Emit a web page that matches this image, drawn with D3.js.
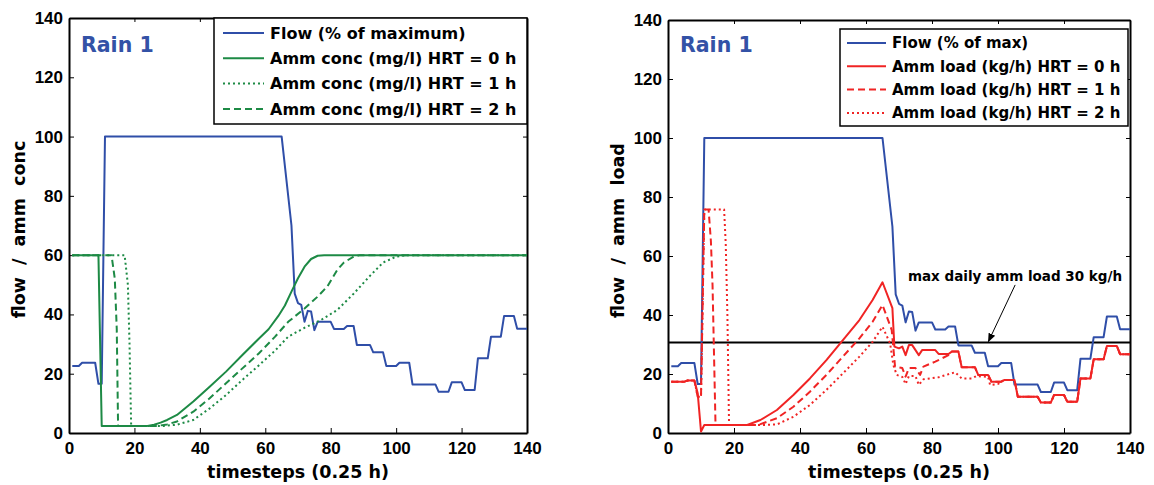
<!DOCTYPE html>
<html lang="en">
<head>
<meta charset="UTF-8">
<title>Rain 1 - flow, ammonium concentration and load</title>
<script src="https://cdnjs.cloudflare.com/ajax/libs/d3/7.8.5/d3.min.js"></script>
<style>
  * { margin: 0; padding: 0; box-sizing: border-box; }
  body { background: #fff; }
  svg { display: block; font-family: "DejaVu Sans", Verdana, sans-serif; font-weight: bold; }
  .tick text { font-size: 17px; font-weight: bold; fill: #000; }
</style>
</head>
<body>
<svg id="chart" width="1154" height="485"></svg>
<script>
// flow, % of maximum (same series in both panels)
const flow = [[1,22.6],[3,22.6],[4,23.7],[8,23.7],[9,16.6],[10,16.6],[11,100],[65,100],[68,70],[69,47],
  [70,43.8],[71,43.2],[72,37.5],[73,41.2],[74,41],[75,34.7],[76,37.5],[80,37.5],[81,35.1],[84,35.1],
  [85,36.1],[87,36.1],[88,29.7],[92,29.7],[93,27.2],[96,27.2],[97,22.6],[100,22.6],[101,23.7],[104,23.7],
  [105,16.4],[112,16.4],[113,13.9],[116,13.9],[117,17.1],[120,17.1],[121,14.5],[124,14.5],[125,25.2],
  [128,25.2],[129,32.5],[132,32.5],[133,39.5],[136,39.5],[137,35.2],[140,35.2]];

// ammonium concentration (mg/l)
const conc0 = [[1,60],[9,60],[10,2.4],[24,2.4],[26,2.8],[28,3.5],[30,4.4],[33,6.1],[38,10.6],[43,15.6],
  [48,20.7],[53,26.3],[58,31.8],[61,35],[64,39.5],[66,43],[68,47.7],[70,52.2],[72,56.1],[74,58.7],
  [76,59.8],[78,60],[140,60]];
const conc1 = [[1,60],[17,60],[18,50],[18.5,30],[19,2.4],[29,2.4],[33,2.8],[38,4.4],[43,8.3],[48,12.8],
  [53,17.9],[58,22.8],[63,27.8],[67,32.5],[72,35.5],[77,38.1],[82,41.5],[87,47],[92,53],[96,57.5],
  [100,59.5],[103,60],[140,60]];
const conc2 = [[1,60],[13,60],[14,52],[14.6,35],[15,2.4],[27,2.4],[30,2.9],[33,3.9],[38,7.2],[43,11.7],
  [48,16.8],[53,21.8],[58,26.8],[63,32.5],[67,37.5],[72,42],[76,46],[79,49.5],[82,55],[84,57.5],
  [87,59.5],[89,60],[140,60]];

// ammonium load (kg/h)
const load0 = [[1,17.4],[5,17.4],[6,17.8],[8,17.8],[9,13.5],[10,0.5],[11,2.7],[24,2.7],[28,4.4],[33,7.8],
  [38,12.9],[43,18.5],[48,24.7],[53,31.5],[58,38.3],[62,45.1],[65,51.1],[68,42.3],[68.6,29.3],[70,28.7],
  [71,29.3],[72,26.4],[73,29.8],[74,29.8],[76,26.4],[77,28.1],[81,28.1],[82,26.8],[85,26.8],[86,27.6],
  [88,27.6],[89,22.3],[93,22.3],[94,19.7],[97,19.7],[98,17.4],[101,17.4],[102,18],[105,18],[106,12.3],
  [112,12.3],[113,10.3],[116,10.3],[117,12.9],[120,12.9],[121,10.6],[124,10.6],[125,18.5],[128,18.5],
  [129,25],[132,25],[133,29.5],[136,29.5],[137,26.7],[140,26.7]];
const load1 = [[1,17.4],[5,17.4],[6,17.8],[8,17.8],[9,12.3],[10,12.3],[11,75.8],[12.3,75.8],[13,65],
  [13.5,50],[14.4,2.7],[27,2.7],[28,3],[33,5],[38,8.9],[43,14],[48,19.7],[53,25.9],[58,32.1],[62,37.7],
  [65,43.4],[67.8,34.9],[68.8,22.5],[71,22],[72,19.1],[73,22],[75,22],[76.4,19.7],[77.4,22.5],[81,24.2],
  [85,26.4],[86,27.6],[88,27.6],[89,22.3],[93,22.3],[94,19.7],[97,19.7],[98,17.4],[101,17.4],[102,18],
  [105,18],[106,12.3],[112,12.3],[113,10.3],[116,10.3],[117,12.9],[120,12.9],[121,10.6],[124,10.6],
  [125,18.5],[128,18.5],[129,25],[132,25],[133,29.5],[136,29.5],[137,26.7],[140,26.7]];
const load2 = [[1,17.4],[5,17.4],[6,17.8],[8,17.8],[9,12.3],[10,12.3],[11,75.8],[17,75.8],[17.5,64],
  [18,40],[18.5,2.7],[29,2.7],[33,2.9],[38,5.5],[43,9.5],[48,14.6],[53,20.2],[58,25.9],[62,30.9],
  [65,36],[67.3,30.4],[68.3,23],[69.3,19.7],[71,19],[72,16.6],[73,19.3],[75,19.3],[76,16.3],[77.4,18.2],
  [82,18.9],[87,20.6],[89,18.5],[92,18.5],[93.5,19.3],[97,19],[97.6,16.3],[100,16.6],[101,17.4],[102,18],
  [105,18],[106,12.3],[112,12.3],[113,10.3],[116,10.3],[117,12.9],[120,12.9],[121,10.6],[124,10.6],
  [125,18.5],[128,18.5],[129,25],[132,25],[133,29.5],[136,29.5],[137,26.7],[140,26.7]];

const maxLoad = 30.7;
const tickValues = [0, 20, 40, 60, 80, 100, 120, 140];

const BLUE = "#2f4ea8", GREEN = "#1d8a45", RED = "#f02424";

const svg = d3.select("#chart");
svg.append("rect").attr("width", 1154).attr("height", 485).attr("fill", "#fff");

svg.append("defs").append("marker")
  .attr("id", "arrow").attr("viewBox", "0 0 10 10").attr("refX", 9).attr("refY", 5)
  .attr("markerWidth", 9).attr("markerHeight", 9).attr("orient", "auto")
  .append("path").attr("d", "M0,1 L10,5 L0,9 z").attr("fill", "#000");

function panel(cfg) {
  const x = d3.scaleLinear().domain([0, 140]).range([cfg.x0, cfg.x1]);
  const y = d3.scaleLinear().domain([0, 140]).range([cfg.y0, cfg.y1]);
  const g = svg.append("g");

  g.append("clipPath").attr("id", cfg.id + "-clip")
    .append("rect").attr("x", cfg.x0).attr("y", cfg.y1)
    .attr("width", cfg.x1 - cfg.x0).attr("height", cfg.y0 - cfg.y1);

  // axes with inward ticks, box style
  g.append("g").attr("transform", `translate(0,${cfg.y0})`)
    .call(d3.axisBottom(x).tickValues(tickValues).tickSize(-5).tickSizeOuter(0).tickPadding(9));
  g.append("g").attr("transform", `translate(${cfg.x0},0)`)
    .call(d3.axisLeft(y).tickValues(tickValues).tickSize(-5).tickSizeOuter(0).tickPadding(6));
  g.append("g").attr("transform", `translate(0,${cfg.y1})`)
    .call(d3.axisTop(x).tickValues(tickValues).tickSize(-4).tickSizeOuter(0).tickFormat(""));
  g.append("g").attr("transform", `translate(${cfg.x1},0)`)
    .call(d3.axisRight(y).tickValues(tickValues).tickSize(-4).tickSizeOuter(0).tickFormat(""));
  g.selectAll(".domain").attr("stroke", "#000").attr("stroke-width", 2);
  g.selectAll(".tick line").attr("stroke", "#000").attr("stroke-width", 1);

  const line = d3.line().x(d => x(d[0])).y(d => y(d[1]));
  const plot = g.append("g").attr("clip-path", `url(#${cfg.id}-clip)`);

  if (cfg.hline != null) {
    plot.append("line").attr("x1", x(0)).attr("x2", x(140))
      .attr("y1", y(cfg.hline)).attr("y2", y(cfg.hline))
      .attr("stroke", "#000").attr("stroke-width", 2);
  }

  cfg.series.forEach(s => {
    plot.append("path").datum(s.data).attr("d", line)
      .attr("fill", "none").attr("stroke", s.color).attr("stroke-width", 2)
      .attr("stroke-dasharray", s.dash || null).attr("stroke-linejoin", "round");
  });

  // axis titles
  g.append("text").attr("x", (cfg.x0 + cfg.x1) / 2).attr("y", 478)
    .attr("text-anchor", "middle").attr("font-size", 17.5).text("timesteps (0.25 h)");
  g.append("text").attr("transform", `translate(${cfg.x0 - 44},${(cfg.y0 + cfg.y1) / 2 + 4}) rotate(-90)`)
    .attr("text-anchor", "middle").attr("font-size", 17.5).style("white-space", "pre")
    .text(cfg.ylabel);

  g.append("text").attr("x", cfg.x0 + 12).attr("y", 52).attr("font-size", 20.5)
    .attr("fill", "#3352a6").text("Rain 1");

  // legend
  const L = cfg.legend;
  const lg = g.append("g").attr("transform", `translate(${L.x},${L.y})`);
  lg.append("rect").attr("width", L.w).attr("height", L.h)
    .attr("fill", "#fff").attr("stroke", "#000").attr("stroke-width", 1.5);
  cfg.series.forEach((s, i) => {
    const cy = L.first + i * L.step;
    lg.append("line").attr("x1", L.lx0).attr("x2", L.lx1).attr("y1", cy).attr("y2", cy)
      .attr("stroke", s.color).attr("stroke-width", 2).attr("stroke-dasharray", s.dash || null);
    lg.append("text").attr("x", L.tx).attr("y", cy).attr("dy", "0.36em")
      .attr("font-size", L.fs).text(s.label);
  });

  return { g, x, y };
}

panel({
  id: "left", x0: 69, x1: 527, y0: 433, y1: 18, ylabel: "flow  /  amm  conc",
  legend: { x: 214, y: 18, w: 313, h: 106, first: 15, step: 25.3, lx0: 9, lx1: 50, tx: 56, fs: 16 },
  series: [
    { data: flow, color: BLUE, label: "Flow (% of maximum)" },
    { data: conc0, color: GREEN, label: "Amm conc (mg/l) HRT = 0 h" },
    { data: conc1, color: GREEN, dash: "2,3", label: "Amm conc (mg/l) HRT = 1 h" },
    { data: conc2, color: GREEN, dash: "7,4", label: "Amm conc (mg/l) HRT = 2 h" }
  ]
});

const right = panel({
  id: "right", x0: 668, x1: 1130, y0: 433, y1: 20, ylabel: "flow  /  amm  load", hline: maxLoad,
  legend: { x: 840, y: 29, w: 288, h: 97, first: 14, step: 23.3, lx0: 7, lx1: 46, tx: 52, fs: 15 },
  series: [
    { data: flow, color: BLUE, label: "Flow (% of max)" },
    { data: load0, color: RED, label: "Amm load (kg/h) HRT = 0 h" },
    { data: load1, color: RED, dash: "7,4", label: "Amm load (kg/h) HRT = 1 h" },
    { data: load2, color: RED, dash: "2,3", label: "Amm load (kg/h) HRT = 2 h" }
  ]
});

// annotation of the max daily load line
right.g.append("text").attr("x", right.x(72.7)).attr("y", right.y(51.6))
  .attr("font-size", 13.5).text("max daily amm load 30 kg/h");
right.g.append("line")
  .attr("x1", right.x(105.2)).attr("y1", right.y(50.2))
  .attr("x2", right.x(97.1)).attr("y2", right.y(maxLoad + 0.3))
  .attr("stroke", "#000").attr("stroke-width", 1).attr("marker-end", "url(#arrow)");
</script>
</body>
</html>
